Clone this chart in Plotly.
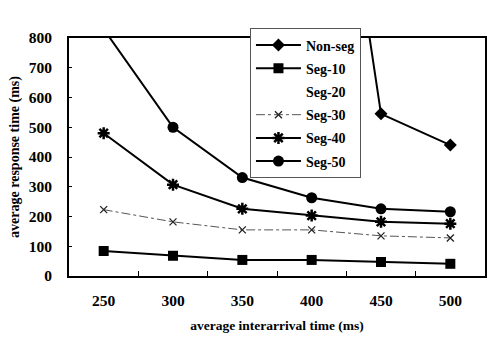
import plotly.graph_objects as go

categories = ["250", "300", "350", "400", "450", "500"]
non_seg = [5200, 4100, 3100, 2100, 545, 440]
seg_10 = [84, 68, 54, 54, 47, 41]
seg_20 = [None, None, None, None, None, None]
seg_30 = [223, 182, 155, 155, 135, 128]
seg_40 = [480, 307, 226, 203, 182, 176]
seg_50 = [830, 500, 331, 263, 226, 216]
y_ticks = [0, 100, 200, 300, 400, 500, 600, 700, 800]

FONT = "Liberation Serif"

fig = go.Figure()
fig.add_trace(go.Scatter(x=categories, y=non_seg, name="Non-seg", mode="lines+markers",
                         line=dict(color="black", width=2),
                         marker=dict(symbol="diamond", size=10, color="black"),
                         legendgroup="a"))
fig.add_trace(go.Scatter(x=categories, y=seg_10, name="Seg-10", mode="lines+markers",
                         line=dict(color="black", width=2),
                         marker=dict(symbol="square", size=10, color="black"),
                         legendgroup="b"))
fig.add_trace(go.Scatter(x=categories, y=seg_20, name="Seg-20", mode="lines",
                         line=dict(color="rgba(0,0,0,0)", width=0),
                         legendgroup="c"))
fig.add_trace(go.Scatter(x=categories, y=seg_30, name="Seg-30", mode="lines+markers",
                         line=dict(color="#555555", width=1, dash="dashdot"),
                         marker=dict(symbol="x-thin", size=7, color="#222222",
                                     line=dict(width=1.3, color="#222222")),
                         legendgroup="d"))
fig.add_trace(go.Scatter(x=categories, y=seg_40, name="Seg-40", mode="lines+markers",
                         line=dict(color="black", width=2),
                         marker=dict(symbol="asterisk", size=10, color="black",
                                     line=dict(width=2.5, color="black")),
                         legendgroup="e"))
fig.add_trace(go.Scatter(x=categories, y=seg_50, name="Seg-50", mode="lines+markers",
                         line=dict(color="black", width=2),
                         marker=dict(symbol="circle", size=11, color="black"),
                         legendgroup="f"))

fig.update_layout(
    width=491, height=364,
    margin=dict(l=69, r=4, t=38, b=88),
    paper_bgcolor="white", plot_bgcolor="white",
    font=dict(family=FONT, size=14, color="black", weight="bold"),
    showlegend=True,
    legend=dict(x=0.435, y=1.04, xanchor="left", yanchor="top",
                bgcolor="white", bordercolor="#555555", borderwidth=1,
                font=dict(family=FONT, size=14, color="black", weight="bold"),
                tracegroupgap=2, itemwidth=45),
    xaxis=dict(type="category", tickson="boundaries", ticks="inside", ticklen=5,
               tickcolor="black", showline=True, linecolor="black", linewidth=2,
               mirror=True, showgrid=False, range=[-0.5, 5.5],
               ticklabelstandoff=9,
               tickfont=dict(family=FONT, size=15.5, weight="bold"),
               title=dict(text="average interarrival time (ms)", standoff=13,
                          font=dict(family=FONT, size=13.5, weight="bold"))),
    yaxis=dict(range=[0, 800], tickvals=y_ticks, ticks="inside", ticklen=3,
               tickcolor="black", showline=True, linecolor="black", linewidth=2,
               mirror=True, showgrid=False, zeroline=False,
               ticklabelstandoff=12,
               tickfont=dict(family=FONT, size=15.5, weight="bold"),
               title=dict(text="average response time (ms)", standoff=6,
                          font=dict(family=FONT, size=14, weight="bold"))),
)

fig.write_html("out.html")
